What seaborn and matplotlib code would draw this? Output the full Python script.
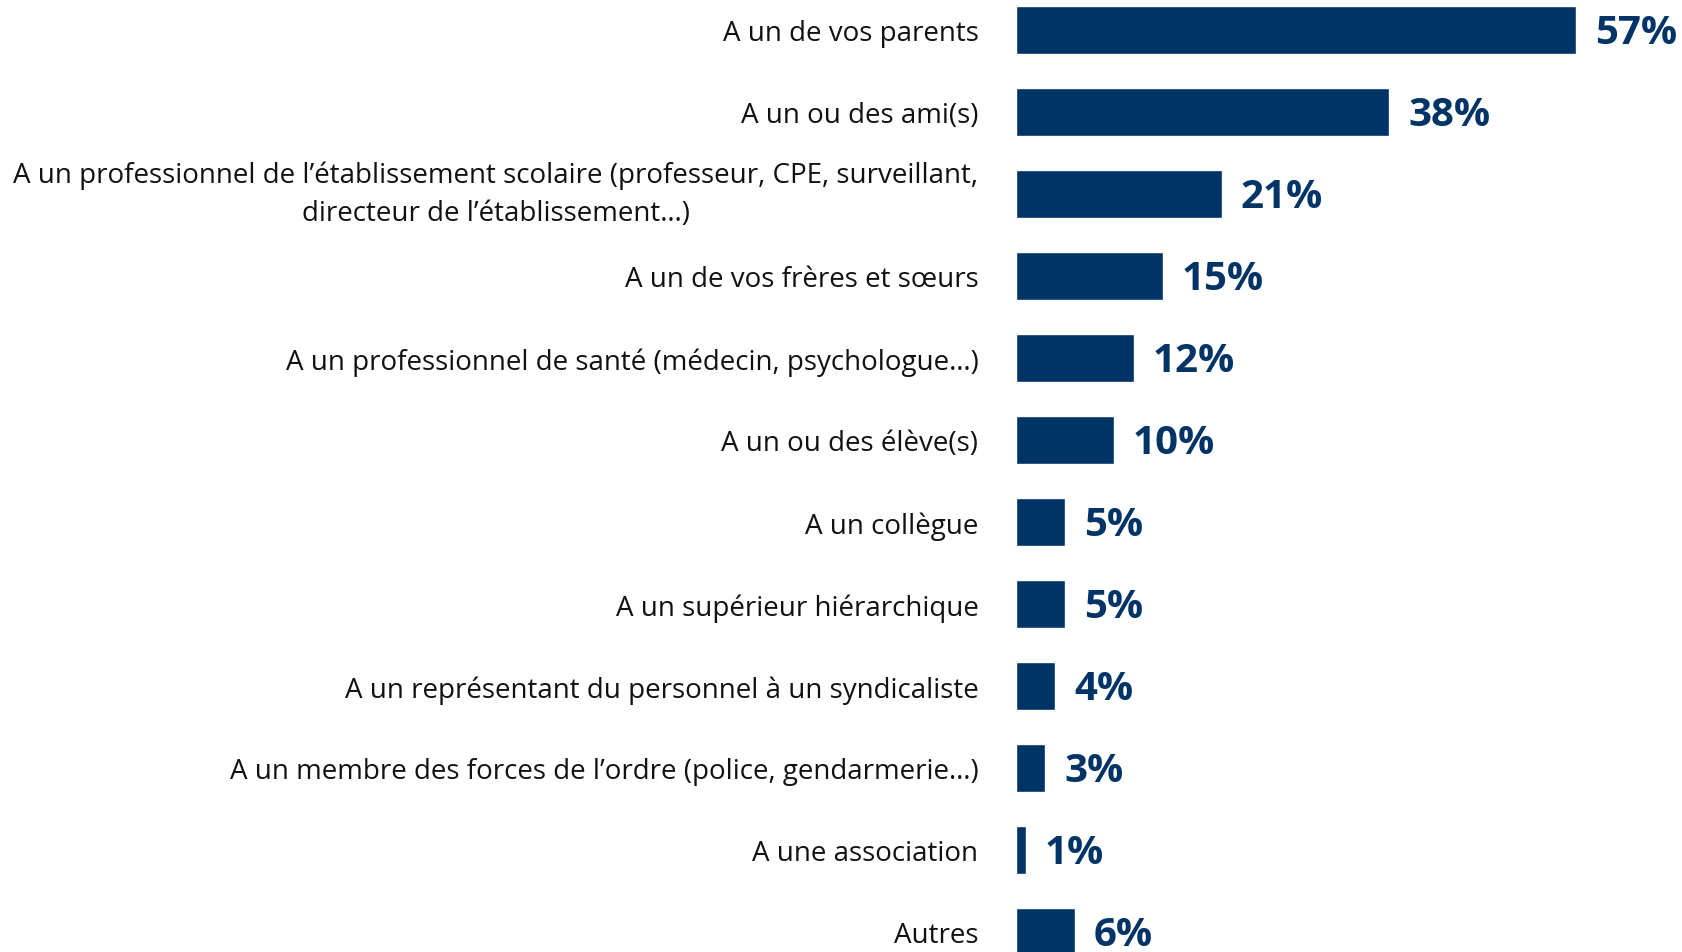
import matplotlib
matplotlib.use("Agg")
import matplotlib.pyplot as plt
from matplotlib import font_manager
import seaborn as sns
import pandas as pd

# Data
categories = [
    "A un de vos parents",
    "A un ou des ami(s)",
    "A un professionnel de l’établissement scolaire (professeur, CPE, surveillant,\ndirecteur de l’établissement…)",
    "A un de vos frères et sœurs",
    "A un professionnel de santé (médecin, psychologue…)",
    "A un ou des élève(s)",
    "A un collègue",
    "A un supérieur hiérarchique",
    "A un représentant du personnel à un syndicaliste",
    "A un membre des forces de l’ordre (police, gendarmerie…)",
    "A une association",
    "Autres",
]
values = [57, 38, 21, 15, 12, 10, 5, 5, 4, 3, 1, 6]

NAVY = "#003366"

sns.set_theme(style="white")
names = {f.name for f in font_manager.fontManager.ttflist}
label_font = "Liberation Sans Narrow" if "Liberation Sans Narrow" in names else "Open Sans"
plt.rcParams["font.family"] = [label_font, "DejaVu Sans"]

df = pd.DataFrame({"Category": categories, "Value": values})

fig = plt.figure(figsize=(16.83, 9.53), dpi=100)
ax = fig.add_axes([1016 / 1683, 0, 667 / 1683, 1])

sns.barplot(data=df, x="Value", y="Category", color=NAVY, width=0.594,
            saturation=1, ax=ax)

ax.set_xlim(0, 67.9)
ax.set_ylim(11.244, -0.378)
ax.set_xlabel("")
ax.set_ylabel("")
ax.set_xticks([])
sns.despine(ax=ax, left=True, bottom=True)
ax.tick_params(axis="y", length=0, pad=27)
for lbl in ax.get_yticklabels():
    lbl.set_fontsize(20)
    lbl.set_color("#111111")
    lbl.set_multialignment("center")
    lbl.set_linespacing(1.5)
    # multi-line label: centre the whole block on the bar
    if "\n" in lbl.get_text():
        lbl.set_verticalalignment("center")

for i, v in enumerate(values):
    ax.text(v + 1.9, i + 0.03, f"{v}%", va="center", ha="left", fontsize=29,
            fontweight="bold", color=NAVY)

fig.savefig("out.png", dpi=100)
plt.close(fig)
